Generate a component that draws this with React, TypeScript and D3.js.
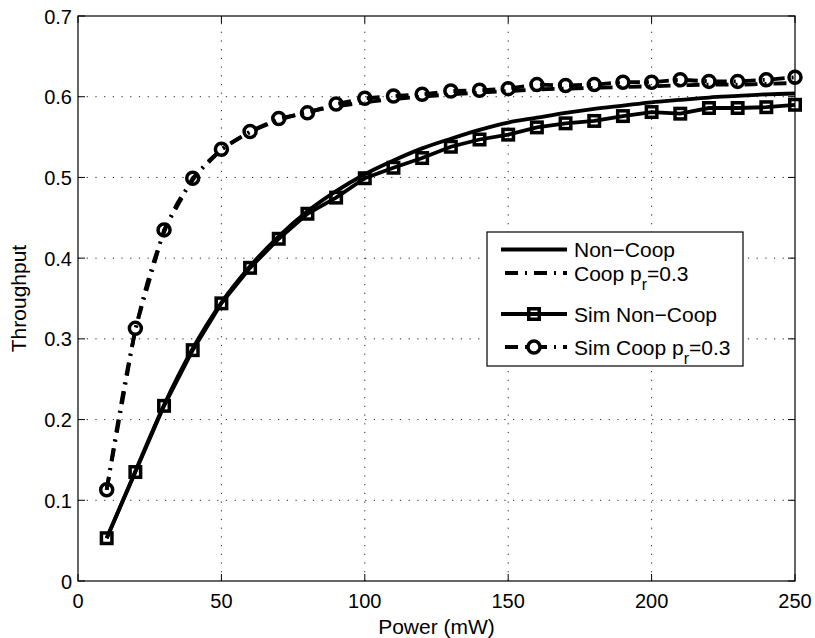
import React from "react";
import * as d3 from "d3";

const powers = [10, 20, 30, 40, 50, 60, 70, 80, 90, 100, 110, 120, 130, 140, 150, 160, 170, 180, 190, 200, 210, 220, 230, 240, 250];
const nonCoopTheory = [0.053, 0.136, 0.218, 0.288, 0.345, 0.39, 0.427, 0.458, 0.483, 0.504, 0.521, 0.536, 0.548, 0.559, 0.568, 0.574, 0.58, 0.585, 0.589, 0.593, 0.596, 0.599, 0.601, 0.603, 0.604];
const coopTheory = [0.113, 0.31, 0.432, 0.497, 0.534, 0.556, 0.571, 0.581, 0.588, 0.593, 0.597, 0.6, 0.603, 0.605, 0.607, 0.609, 0.61, 0.611, 0.612, 0.613, 0.614, 0.615, 0.615, 0.616, 0.617];
const simNonCoop = [0.053, 0.135, 0.217, 0.286, 0.344, 0.388, 0.424, 0.455, 0.475, 0.499, 0.512, 0.524, 0.538, 0.547, 0.553, 0.562, 0.567, 0.57, 0.576, 0.581, 0.579, 0.586, 0.586, 0.587, 0.59];
const simCoop = [0.113, 0.313, 0.435, 0.499, 0.535, 0.557, 0.573, 0.58, 0.591, 0.598, 0.601, 0.603, 0.607, 0.608, 0.61, 0.615, 0.614, 0.615, 0.618, 0.618, 0.621, 0.619, 0.619, 0.621, 0.624];
const xTicks = [0, 50, 100, 150, 200, 250];
const yTicks = [0, 0.1, 0.2, 0.3, 0.4, 0.5, 0.6, 0.7];
const yTickLabels = ["0", "0.1", "0.2", "0.3", "0.4", "0.5", "0.6", "0.7"];

const L = 78, R = 795, T = 16, B = 581;
const FONT = "'Liberation Sans', Arial, Helvetica, sans-serif";
const DASHDOT = "13,7,2,7";

export default function App() {
  const x = d3.scaleLinear().domain([0, 250]).range([L, R]);
  const y = d3.scaleLinear().domain([0, 0.7]).range([B, T]);
  const line = (vals: number[]) =>
    d3.line<number>().x((_, i) => x(powers[i])).y((v) => y(v)).curve(d3.curveMonotoneX)(vals) || "";
  const straight = (vals: number[]) =>
    d3.line<number>().x((_, i) => x(powers[i])).y((v) => y(v))(vals) || "";
  const tickLen = 7;
  const sq = 10.5, cr = 6, mw = 3.5;

  const legX = 487, legY = 232, legW = 256, legH = 134;
  const rows = [249.5, 273, 314, 347];
  const s1 = 501, s2 = 567, tx = 574;

  return (
    <svg width={815} height={638} style={{ position: "absolute", left: 0, top: 0, background: "#fff" }} fontFamily={FONT}>
      <rect x={0} y={0} width={815} height={638} fill="#fff" />
      {/* grid */}
      <g stroke="#222" strokeWidth={1} strokeDasharray="1.2,7.5">
        {xTicks.slice(1, -1).map((t) => (
          <line key={"gx" + t} x1={x(t)} x2={x(t)} y1={B} y2={T} />
        ))}
        {yTicks.slice(1, -1).map((t) => (
          <line key={"gy" + t} x1={L} x2={R} y1={y(t)} y2={y(t)} />
        ))}
      </g>
      {/* theory curves */}
      <path d={line(nonCoopTheory)} fill="none" stroke="#000" strokeWidth={3.8} />
      <path d={line(coopTheory)} fill="none" stroke="#000" strokeWidth={3.8} strokeDasharray={DASHDOT} />
      {/* simulation curves */}
      <path d={straight(simNonCoop)} fill="none" stroke="#000" strokeWidth={3.8} />
      <path d={straight(simCoop)} fill="none" stroke="#000" strokeWidth={3.8} strokeDasharray={DASHDOT} />
      {simNonCoop.map((v, i) => (
        <rect key={"sq" + i} x={x(powers[i]) - sq / 2} y={y(v) - sq / 2} width={sq} height={sq} fill="none" stroke="#000" strokeWidth={mw} />
      ))}
      {simCoop.map((v, i) => (
        <circle key={"ci" + i} cx={x(powers[i])} cy={y(v)} r={cr} fill="none" stroke="#000" strokeWidth={mw} />
      ))}
      {/* axes box */}
      <rect x={L} y={T} width={R - L} height={B - T} fill="none" stroke="#000" strokeWidth={1.2} />
      <g stroke="#000" strokeWidth={1}>
        {xTicks.map((t) => (
          <g key={"tx" + t}>
            <line x1={x(t)} x2={x(t)} y1={B} y2={B - tickLen} />
            <line x1={x(t)} x2={x(t)} y1={T} y2={T + tickLen} />
          </g>
        ))}
        {yTicks.map((t) => (
          <g key={"ty" + t}>
            <line x1={L} x2={L + tickLen} y1={y(t)} y2={y(t)} />
            <line x1={R} x2={R - tickLen} y1={y(t)} y2={y(t)} />
          </g>
        ))}
      </g>
      <g fontSize={20} fill="#000">
        {xTicks.map((t) => (
          <text key={"lx" + t} x={x(t)} y={608} textAnchor="middle">{String(t)}</text>
        ))}
        {yTicks.map((t, i) => (
          <text key={"ly" + t} x={72} y={y(t) + 7.5} textAnchor="end">{yTickLabels[i]}</text>
        ))}
      </g>
      <text x={(L + R) / 2} y={634} textAnchor="middle" fontSize={21}>Power (mW)</text>
      <text transform={`translate(26,${(T + B) / 2}) rotate(-90)`} textAnchor="middle" fontSize={21}>Throughput</text>
      {/* legend */}
      <rect x={legX} y={legY} width={legW} height={legH} fill="#fff" stroke="#000" strokeWidth={1.2} />
      <line x1={s1} x2={s2} y1={rows[0]} y2={rows[0]} stroke="#000" strokeWidth={3.8} />
      <line x1={s1} x2={s2} y1={rows[1]} y2={rows[1]} stroke="#000" strokeWidth={3.8} strokeDasharray={DASHDOT} strokeDashoffset={-4} />
      <line x1={s1} x2={s2} y1={rows[2]} y2={rows[2]} stroke="#000" strokeWidth={3.8} />
      <rect x={(s1 + s2) / 2 - sq / 2} y={rows[2] - sq / 2} width={sq} height={sq} fill="none" stroke="#000" strokeWidth={mw} />
      <line x1={s1} x2={s2} y1={rows[3]} y2={rows[3]} stroke="#000" strokeWidth={3.8} strokeDasharray={DASHDOT} strokeDashoffset={-4} />
      <circle cx={(s1 + s2) / 2} cy={rows[3]} r={cr} fill="#fff" stroke="#000" strokeWidth={mw} />
      <g fontSize={21} fill="#000">
        <text x={tx} y={rows[0] + 7.8}>Non−Coop</text>
        <text x={tx} y={rows[1] + 7.8}>
          Coop p<tspan fontSize={16} dy={9}>r</tspan><tspan dy={-9}>=0.3</tspan>
        </text>
        <text x={tx} y={rows[2] + 7.8}>Sim Non−Coop</text>
        <text x={tx} y={rows[3] + 7.8}>
          Sim Coop p<tspan fontSize={16} dy={9}>r</tspan><tspan dy={-9}>=0.3</tspan>
        </text>
      </g>
    </svg>
  );
}
